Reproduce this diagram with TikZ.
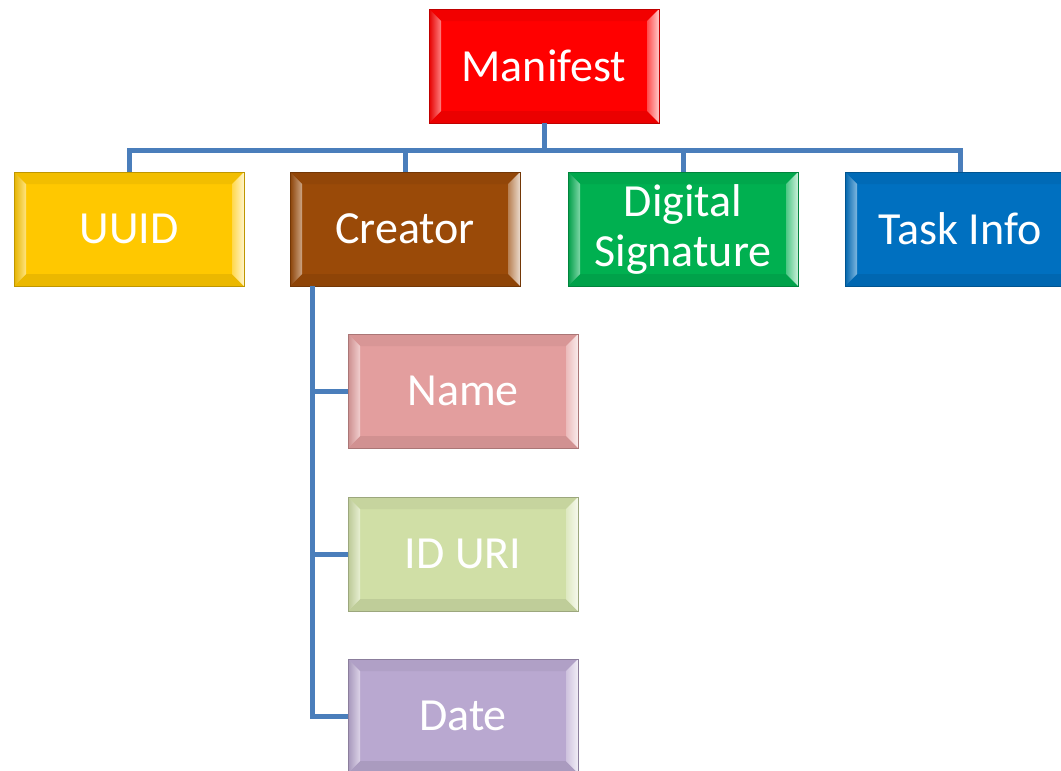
\documentclass[tikz,border=0pt]{standalone}
\usepackage{fontspec}
\setmainfont{Carlito}
\usetikzlibrary{calc}
\definecolor{cRed}{HTML}{FF0000}
\definecolor{cGold}{HTML}{FFC800}
\definecolor{cBrown}{HTML}{9A4A08}
\definecolor{cGreen}{HTML}{00B050}
\definecolor{cBlue}{HTML}{0070C0}
\definecolor{cPink}{HTML}{E39E9E}
\definecolor{cLime}{HTML}{D0DFA6}
\definecolor{cLilac}{HTML}{B9A8D0}
\definecolor{cLine}{HTML}{4A7EBB}
\tikzset{
  bev/.style={rectangle, minimum width=230pt, minimum height=114pt, inner sep=0pt,
    fill=#1, draw=#1!75!black, line width=0.8pt, text=white, align=center,
    font=\fontsize{46}{50}\selectfont,
    path picture={
      \coordinate (SW) at (path picture bounding box.south west);
      \coordinate (NE) at (path picture bounding box.north east);
      \coordinate (NW) at (SW |- NE);
      \coordinate (SE) at (NE |- SW);
      \coordinate (iSW) at ($(SW)+(12pt,12pt)$);
      \coordinate (iNE) at ($(NE)+(-12pt,-12pt)$);
      \coordinate (iNW) at (iSW |- iNE);
      \coordinate (iSE) at (iNE |- iSW);
      \fill[#1!95!black] (NW) -- (NE) -- (iNE) -- (iNW) -- cycle;
      \fill[#1!92!black] (SW) -- (SE) -- (iSE) -- (iSW) -- cycle;
      \shade[left color=#1!90!black, right color=#1!50!white] (SW) -- (NW) -- (iNW) -- (iSW) -- cycle;
      \shade[left color=#1!70!white, right color=#1!20!white] (SE) -- (NE) -- (iNE) -- (iSE) -- cycle;
    }},
  conn/.style={draw=cLine, line width=5pt}
}
\begin{document}
\begin{tikzpicture}[x=1pt,y=-1pt]
\useasboundingbox (0,0) rectangle (1061,771);
\clip (0,0) rectangle (1061,771);
\node[bev=cRed]   (man)  at (544,66)  {Manifest};
\node[bev=cGold]  (uuid) at (129,229) {UUID};
\node[bev=cBrown] (cre)  at (405,229) {Creator};
\node[bev=cGreen] (sig)  at (683,229) {Digital\\Signature};
\node[bev=cBlue]  (task) at (960,229) {Task Info};
\node[bev=cPink]  (name) at (463,391) {Name};
\node[bev=cLime]  (iduri) at (463,554) {ID URI};
\node[bev=cLilac] (date) at (463,716) {Date};
\coordinate (bus) at (0,150);
\coordinate (cv) at ([xshift=23pt]cre.south west);
\draw[conn] (man.south) -- (man.south |- bus);
\draw[conn] (uuid.north) -- (uuid.north |- bus) -- (task.north |- bus) -- (task.north);
\draw[conn] (cre.north) -- (cre.north |- bus);
\draw[conn] (sig.north) -- (sig.north |- bus);
\draw[conn] (cv) |- (date.west);
\draw[conn] (cv |- name.west) -- (name.west);
\draw[conn] (cv |- iduri.west) -- (iduri.west);
\end{tikzpicture}
\end{document}
